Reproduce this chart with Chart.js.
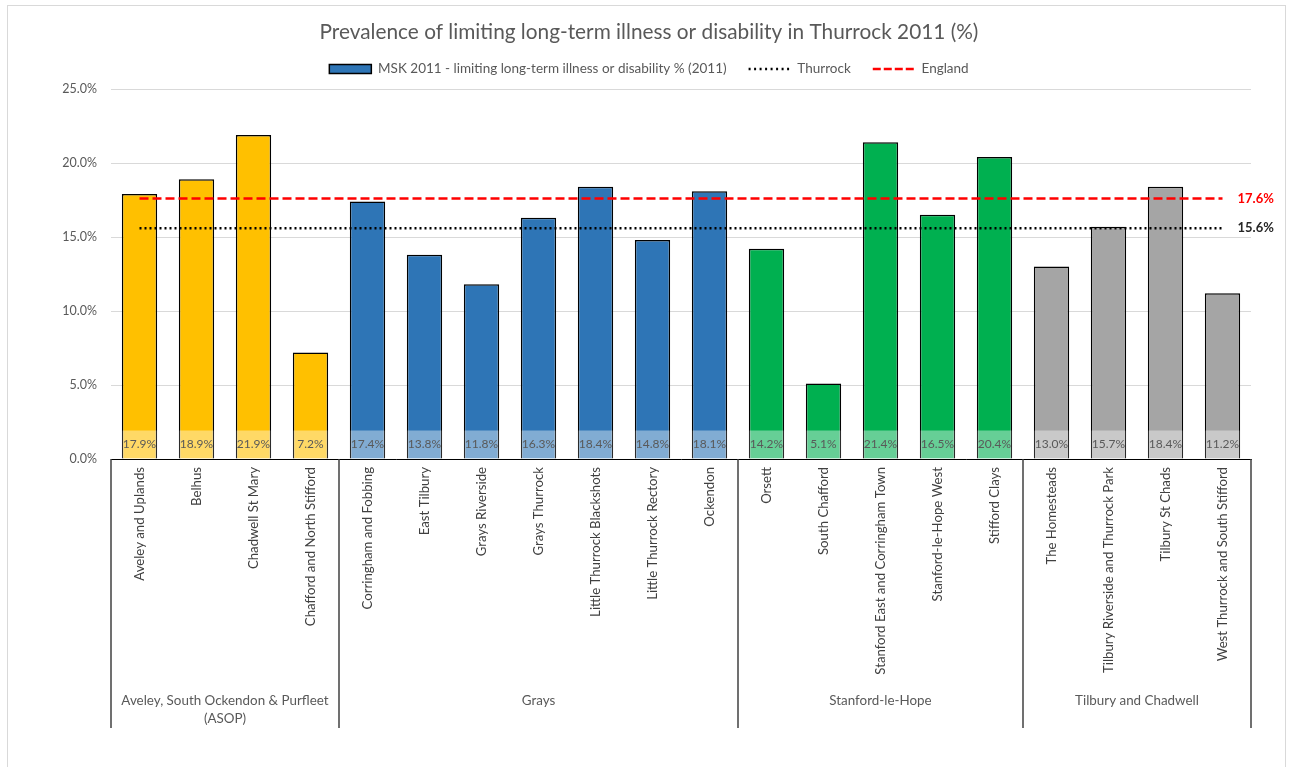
<!DOCTYPE html>
<html>
<head>
<meta charset="utf-8">
<script src="https://cdn.jsdelivr.net/npm/chart.js@4.4.1/dist/chart.umd.min.js"></script>
<style>
html,body{margin:0;padding:0;background:#fff;}
#wrap{width:1290px;height:767px;position:relative;}
</style>
</head>
<body>
<div id="wrap"><canvas id="c" width="1290" height="767"></canvas></div>
<script>
// ---- data ----
const wards = [
  "Aveley and Uplands", "Belhus", "Chadwell St Mary", "Chafford and North Stifford",
  "Corringham and Fobbing", "East Tilbury", "Grays Riverside", "Grays Thurrock",
  "Little Thurrock Blackshots", "Little Thurrock Rectory", "Ockendon",
  "Orsett", "South Chafford", "Stanford East and Corringham Town", "Stanford-le-Hope West", "Stifford Clays",
  "The Homesteads", "Tilbury Riverside and Thurrock Park", "Tilbury St Chads", "West Thurrock and South Stifford"
];
const groupNames = [["Aveley, South Ockendon & Purfleet", "(ASOP)"], ["Grays"], ["Stanford-le-Hope"], ["Tilbury and Chadwell"]];
const groupSizes = [4, 7, 5, 4];
const prevalence = [17.9, 18.9, 21.9, 7.2, 17.4, 13.8, 11.8, 16.3, 18.4, 14.8, 18.1, 14.2, 5.1, 21.4, 16.5, 20.4, 13.0, 15.7, 18.4, 11.2];
const thurrock = [15.6, 15.6, 15.6, 15.6, 15.6, 15.6, 15.6, 15.6, 15.6, 15.6, 15.6, 15.6, 15.6, 15.6, 15.6, 15.6, 15.6, 15.6, 15.6, 15.6];
const england = [17.6, 17.6, 17.6, 17.6, 17.6, 17.6, 17.6, 17.6, 17.6, 17.6, 17.6, 17.6, 17.6, 17.6, 17.6, 17.6, 17.6, 17.6, 17.6, 17.6];
const groupColors = ["#FFC000", "#2E75B6", "#00B050", "#A5A5A5"];
const seriesNames = ["MSK 2011 - limiting long-term illness or disability % (2011)", "Thurrock", "England"];
const chartTitle = "Prevalence of limiting long-term illness or disability in Thurrock 2011 (%)";

// ---- derived styles ----
const barColors = [];
groupSizes.forEach((n, g) => { for (let i = 0; i < n; i++) barColors.push(groupColors[g]); });

const FONT = "Lato";

const framePlugin = {
  id: "frame",
  beforeDraw(chart) {
    const ctx = chart.ctx;
    ctx.save();
    ctx.fillStyle = "#fff";
    ctx.fillRect(0, 0, chart.width, chart.height);
    ctx.strokeStyle = "#D9D9D9";
    ctx.lineWidth = 1;
    ctx.strokeRect(7.5, 5.5, 1278, 780);
    ctx.restore();
  }
};

const legendFitPlugin = {
  id: "legendFit",
  beforeLayout(chart) {
    const lg = chart.legend;
    if (lg && !lg._patched) {
      const f = lg.fit;
      lg.fit = function () { f.call(this); this.height += 3.2; };
      lg._patched = true;
    }
  }
};

const barLabelPlugin = {
  id: "barLabels",
  afterDatasetsDraw(chart) {
    const ctx = chart.ctx;
    const meta = chart.getDatasetMeta(0);
    ctx.save();
    meta.data.forEach((bar, i) => {
      const w = bar.width - 1.5;
      const base = bar.base;
      ctx.fillStyle = "rgba(255,255,255,0.4)";
      ctx.fillRect(bar.x - w / 2, base - 28, w, 28);
      ctx.fillStyle = "#595959";
      ctx.font = "12px " + FONT;
      ctx.textAlign = "center";
      ctx.textBaseline = "middle";
      ctx.fillText(prevalence[i].toFixed(1) + "%", bar.x, base - 14);
    });
    ctx.restore();
  }
};

const refLabelPlugin = {
  id: "refLabels",
  afterDatasetsDraw(chart) {
    const ctx = chart.ctx;
    ctx.save();
    [[1, "#262626"], [2, "#FF0000"]].forEach(([di, col]) => {
      const meta = chart.getDatasetMeta(di);
      const pts = meta.data;
      const last = pts[pts.length - 1];
      const vals = chart.data.datasets[di].data;
      ctx.fillStyle = col;
      ctx.font = "bold 13px " + FONT;
      ctx.textAlign = "left";
      ctx.textBaseline = "middle";
      ctx.fillText(vals[vals.length - 1].toFixed(1) + "%", last.x + 15, last.y);
    });
    ctx.restore();
  }
};

const groupPlugin = {
  id: "groups",
  afterDraw(chart) {
    const ctx = chart.ctx;
    const xs = chart.scales.x;
    const step = xs.getPixelForTick(1) - xs.getPixelForTick(0);
    const top = chart.chartArea.bottom;
    const bottom = 728;
    ctx.save();
    ctx.strokeStyle = "#404040";
    ctx.lineWidth = 1.5;
    let idx = 0;
    const bounds = [xs.getPixelForTick(0) - step / 2];
    groupSizes.forEach(n => { idx += n; bounds.push(xs.getPixelForTick(idx - 1) + step / 2); });
    bounds.forEach(b => {
      ctx.beginPath();
      ctx.moveTo(b, top);
      ctx.lineTo(b, bottom);
      ctx.stroke();
    });
    ctx.fillStyle = "#595959";
    ctx.font = "13.4px " + FONT;
    ctx.textAlign = "center";
    ctx.textBaseline = "middle";
    groupNames.forEach((lines, g) => {
      const cx = (bounds[g] + bounds[g + 1]) / 2;
      lines.forEach((t, k) => ctx.fillText(t, cx, 701 + k * 18));
    });
    ctx.restore();
  }
};

new Chart(document.getElementById("c"), {
  type: "bar",
  data: {
    labels: wards,
    datasets: [
      {
        type: "bar",
        label: seriesNames[0],
        data: prevalence,
        backgroundColor: barColors,
        borderColor: "#000",
        borderWidth: 1.5,
        categoryPercentage: 1,
        barPercentage: 0.62,
        order: 2
      },
      {
        type: "line",
        label: seriesNames[1],
        data: thurrock,
        borderColor: "#000",
        borderWidth: 2.5,
        borderDash: [2, 3],
        pointRadius: 0,
        fill: false,
        order: 1
      },
      {
        type: "line",
        label: seriesNames[2],
        data: england,
        borderColor: "#FF0000",
        borderWidth: 2.5,
        borderDash: [9, 4],
        pointRadius: 0,
        fill: false,
        order: 0
      }
    ]
  },
  options: {
    responsive: false,
    animation: false,
    devicePixelRatio: 1,
    layout: { padding: { top: 10, left: 47, right: 39, bottom: 39 } },
    plugins: {
      tooltip: { enabled: false },
      title: {
        display: true,
        text: chartTitle,
        color: "#595959",
        font: { family: FONT, size: 20.8, weight: "normal", lineHeight: 0.8 },
        padding: { top: 13.68, bottom: 0 }
      },
      legend: {
        display: true,
        position: "top",
        labels: {
          color: "#595959",
          font: { family: FONT, size: 13.5 },
          padding: 22,
          usePointStyle: true,
          pointStyleWidth: 42,
          boxHeight: 9,
          generateLabels() {
            return [
              { text: seriesNames[0], fillStyle: "#2E75B6", strokeStyle: "#000", lineWidth: 1.5, pointStyle: "rect", datasetIndex: 0, hidden: false, fontColor: "#595959" },
              { text: seriesNames[1], fillStyle: "#000", strokeStyle: "#000", lineWidth: 2.5, lineDash: [2, 3.5], pointStyle: "line", datasetIndex: 1, hidden: false, fontColor: "#595959" },
              { text: seriesNames[2], fillStyle: "#FF0000", strokeStyle: "#FF0000", lineWidth: 2.5, lineDash: [8, 3], pointStyle: "line", datasetIndex: 2, hidden: false, fontColor: "#595959" }
            ];
          }
        }
      }
    },
    scales: {
      x: {
        type: "category",
        offset: true,
        grid: { display: false, drawTicks: false },
        border: { display: true, color: "#000", width: 1 },
        ticks: {
          autoSkip: false,
          maxRotation: 90,
          minRotation: 90,
          padding: 8,
          color: "#404040",
          font: { family: FONT, size: 13.2 }
        },
        afterFit(s) { s.height = 269; }
      },
      y: {
        min: 0,
        max: 25,
        grid: { color: "#D9D9D9", lineWidth: 1, drawTicks: false },
        border: { display: false },
        ticks: {
          stepSize: 5,
          padding: 14,
          color: "#595959",
          font: { family: FONT, size: 12.5 },
          callback: v => v.toFixed(1) + "%"
        },
        afterFit(s) { s.width = 64; }
      }
    }
  },
  plugins: [framePlugin, legendFitPlugin, barLabelPlugin, refLabelPlugin, groupPlugin]
});
</script>
</body>
</html>
